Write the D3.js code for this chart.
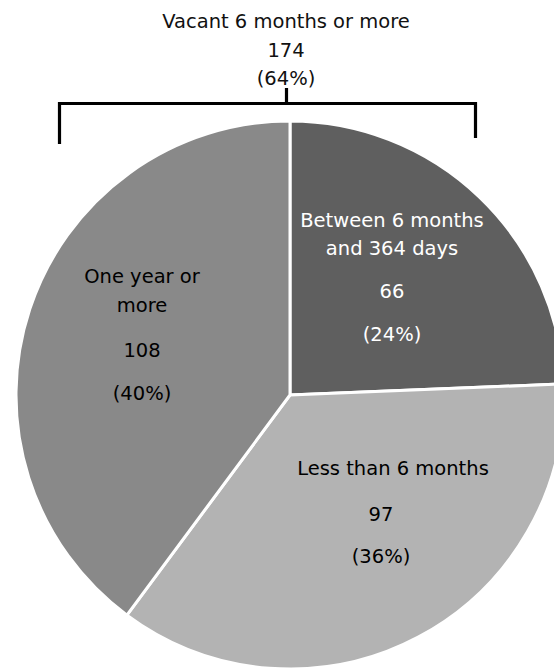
<!DOCTYPE html>
<html>
<head>
<meta charset="utf-8">
<script src="https://cdn.jsdelivr.net/npm/d3@7"></script>
<style>
  html, body { margin: 0; padding: 0; background: #ffffff; }
  svg { display: block; }
  text { font-family: "DejaVu Sans", sans-serif; }
</style>
</head>
<body>
<svg id="chart" width="554" height="670"></svg>
<script>
// Vacancy duration breakdown
const categories = ["Between 6 months and 364 days", "Less than 6 months", "One year or more"];
const labelLines = [["Between 6 months", "and 364 days"], ["Less than 6 months"], ["One year or", "more"]];
const values = [66, 97, 108];
const sliceColors = ["#5f5f5f", "#b3b3b3", "#898989"];
const labelColors = ["#ffffff", "#000000", "#000000"];
const groupTitle = "Vacant 6 months or more";
const groupMembers = ["Between 6 months and 364 days", "One year or more"];

const W = 554, H = 670;
const cx = 290, cy = 395, R = 274;
const fontSize = 19.5;

const svg = d3.select("#chart");
const total = d3.sum(values);
const pct = v => Math.round(v / total * 100) + "%";

const rows = categories.map((c, i) => ({ name: c, value: values[i], lines: labelLines[i], color: sliceColors[i], textColor: labelColors[i] }));

const pie = d3.pie().value(d => d.value).sort(null);
const arc = d3.arc().innerRadius(0).outerRadius(R);

const g = svg.append("g").attr("transform", `translate(${cx},${cy})`);
g.selectAll("path.slice")
  .data(pie(rows))
  .join("path")
  .attr("class", "slice")
  .attr("d", arc)
  .attr("fill", d => d.data.color)
  .attr("stroke", "#ffffff")
  .attr("stroke-width", 3)
  .attr("stroke-linejoin", "miter");

// Label blocks: anchor (x) for the name lines and the number lines, plus baselines
const labelLayout = [
  { nameX: 392, numX: 392, nameY: [227, 255], numY: 298, pctY: 341 },
  { nameX: 393, numX: 381, nameY: [475], numY: 521, pctY: 563 },
  { nameX: 142, numX: 142, nameY: [283, 312], numY: 357, pctY: 400 }
];

rows.forEach((r, i) => {
  const L = labelLayout[i];
  const t = svg.append("g")
    .attr("fill", r.textColor)
    .attr("font-size", fontSize)
    .attr("text-anchor", "middle");
  r.lines.forEach((ln, j) => {
    t.append("text").attr("x", L.nameX).attr("y", L.nameY[j]).text(ln);
  });
  t.append("text").attr("x", L.numX).attr("y", L.numY).text(r.value);
  t.append("text").attr("x", L.numX).attr("y", L.pctY).text("(" + pct(r.value) + ")");
});

// Group bracket over the slices that have been vacant six months or more
const groupValue = d3.sum(rows.filter(r => groupMembers.includes(r.name)), r => r.value);
const titleX = 286;
const tt = svg.append("g")
  .attr("fill", "#111111")
  .attr("font-size", fontSize)
  .attr("text-anchor", "middle");
tt.append("text").attr("x", titleX).attr("y", 28).text(groupTitle);
tt.append("text").attr("x", titleX).attr("y", 57).text(groupValue);
tt.append("text").attr("x", titleX).attr("y", 85).text("(" + pct(groupValue) + ")");

const bracket = d3.path();
bracket.moveTo(59.5, 144);
bracket.lineTo(59.5, 103.5);
bracket.lineTo(475.5, 103.5);
bracket.lineTo(475.5, 138);
bracket.moveTo(286.5, 88);
bracket.lineTo(286.5, 103.5);
svg.append("path")
  .attr("d", bracket.toString())
  .attr("fill", "none")
  .attr("stroke", "#000000")
  .attr("stroke-width", 3.2)
  .attr("stroke-linejoin", "miter");
</script>
</body>
</html>
